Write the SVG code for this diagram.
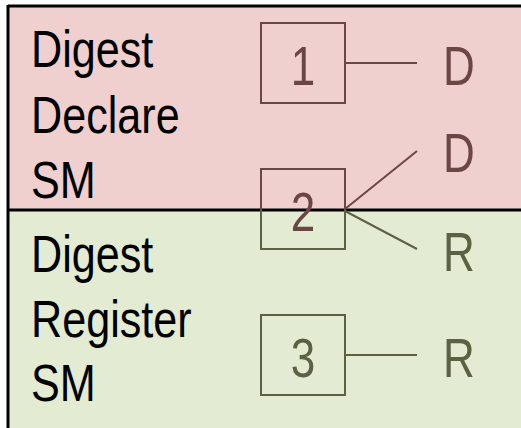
<svg xmlns="http://www.w3.org/2000/svg" width="521" height="428" viewBox="0 0 521 428">
<style>
.lbl{font-family:"Liberation Sans",Arial,sans-serif;font-size:52px;fill:#000}
.big{font-family:"Liberation Sans",Arial,sans-serif;font-size:55px}
.pk{fill:#6a4745}
.gr{fill:#5b6244}
.bpk{fill:none;stroke:#6a4745;stroke-width:2}
.bgr{fill:none;stroke:#5b6244;stroke-width:2}
</style>
<rect x="0" y="0" width="521" height="428" fill="#ffffff"/>
<g id="declare-region">
<rect x="9" y="6" width="512" height="204" fill="#efd0ce"/>
<text class="lbl" transform="matrix(0.83 0 0 1 31 67)">Digest</text>
<text class="lbl" transform="matrix(0.83 0 0 1 31 133)">Declare</text>
<text class="lbl" transform="matrix(0.83 0 0 1 31 198)">SM</text>
</g>
<g id="register-region">
<rect x="9" y="210" width="512" height="218" fill="#e3ebd3"/>
<text class="lbl" transform="matrix(0.83 0 0 1 31 272)">Digest</text>
<text class="lbl" transform="matrix(0.83 0 0 1 31 337)">Register</text>
<text class="lbl" transform="matrix(0.83 0 0 1 31 401)">SM</text>
</g>
<g id="borders">
<line x1="8" y1="6" x2="521" y2="6" stroke="#000" stroke-width="3"/>
<line x1="8" y1="5" x2="8" y2="428" stroke="#000" stroke-width="3"/>
<line x1="8" y1="210" x2="521" y2="210" stroke="#000" stroke-width="3"/>
</g>
<g id="connectors">
<line x1="345" y1="63" x2="417" y2="63" class="bpk"/>
<line x1="345" y1="209" x2="417" y2="151" class="bpk"/>
<line x1="345" y1="211" x2="417" y2="249" class="bgr"/>
<line x1="345" y1="355" x2="417" y2="355" class="bgr"/>
</g>
<g id="node-1">
<rect x="261" y="23" width="84" height="80" class="bpk"/>
<text class="big pk" transform="matrix(0.8 0 0 1 303 85)" text-anchor="middle">1</text>
</g>
<g id="node-2">
<rect x="261" y="169" width="84" height="80" class="bpk"/>
<path d="M261 210V249H345V210" class="bgr"/>
<text class="big pk" transform="matrix(0.8 0 0 1 303 231)" text-anchor="middle">2</text>
</g>
<g id="node-3">
<rect x="261" y="315" width="84" height="80" class="bgr"/>
<text class="big gr" transform="matrix(0.8 0 0 1 303 377)" text-anchor="middle">3</text>
</g>
<g id="label-d1"><text class="big pk" transform="matrix(0.8 0 0 1 443 85)">D</text></g>
<g id="label-d2"><text class="big pk" transform="matrix(0.8 0 0 1 443 172)">D</text></g>
<g id="label-r1"><text class="big gr" transform="matrix(0.8 0 0 1 443 271)">R</text></g>
<g id="label-r2"><text class="big gr" transform="matrix(0.8 0 0 1 443 377)">R</text></g>
</svg>
